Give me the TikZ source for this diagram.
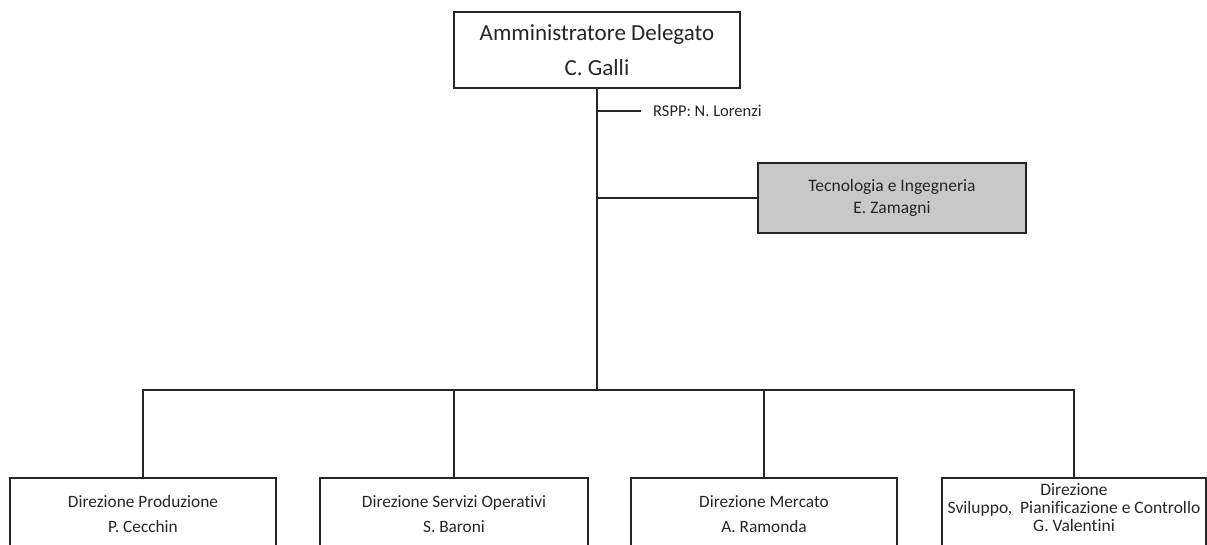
\documentclass[tikz,border=0pt]{standalone}
\usepackage{fontspec}
\setmainfont{Carlito}[Ligatures=NoCommon]
\definecolor{boxgray}{RGB}{200,200,200}
\definecolor{ink}{RGB}{38,38,38}
\begin{document}
\begin{tikzpicture}[x=1pt,y=-1pt,
  box/.style={draw=ink, line width=2pt, inner sep=0pt},
  lbl/.style={align=center, text=ink, inner sep=0pt},
  conn/.style={draw=ink, line width=2pt}]
\clip (0,0) rectangle (1207,545);
\fill[white] (0,0) rectangle (1207,545);
% top
\node[box, lbl, minimum width=286pt, minimum height=76pt,
      font=\fontsize{23}{35}\selectfont] (ad) at (597,50)
      {Amministratore Delegato\\C. Galli};
% junction coordinates
\coordinate (bus) at (597,390);
\coordinate (rj) at (597,111);
\coordinate (tj) at (597,198);
% RSPP
\node[lbl, anchor=west, font=\fontsize{16.5}{18}\selectfont] (rspp) at (653,111) {RSPP: N. Lorenzi};
% Tecnologia
\node[box, lbl, fill=boxgray, minimum width=268pt, minimum height=70pt,
      font=\fontsize{17.5}{22}\selectfont] (te) at (892,198)
      {Tecnologia e Ingegneria\\E. Zamagni};
% bottom boxes
\node[box, anchor=north, minimum width=266pt, minimum height=100pt] (b1) at (143,477) {};
\node[box, anchor=north, minimum width=268pt, minimum height=100pt] (b2) at (454,477) {};
\node[box, anchor=north, minimum width=266pt, minimum height=100pt] (b3) at (764,477) {};
\node[box, anchor=north, minimum width=264pt, minimum height=100pt] (b4) at (1074,477) {};
\node[lbl, font=\fontsize{17.3}{25}\selectfont] (t1) at (143,514.5) {Direzione Produzione\\P. Cecchin};
\node[lbl, font=\fontsize{17.3}{25}\selectfont] (t2) at (454,514.5) {Direzione Servizi Operativi\\S. Baroni};
\node[lbl, font=\fontsize{17.3}{25}\selectfont] (t3) at (764,514.5) {Direzione Mercato\\A. Ramonda};
\node[lbl, font=\fontsize{17.5}{18}\selectfont] (t4) at (1074,508) {Direzione\\Sviluppo,\ \ Pianificazione e Controllo\\G. Valentini};
% connectors
\draw[conn] (ad.south) -- (bus);
\draw[conn] (rj) -- ([xshift=-12pt]rspp.west);
\draw[conn] (tj) -- (te.west);
\draw[conn] (b1.north) -- (b1.north |- bus) -- (b4.north |- bus) -- (b4.north);
\draw[conn] (b2.north) -- (b2.north |- bus);
\draw[conn] (b3.north) -- (b3.north |- bus);
\end{tikzpicture}
\end{document}
